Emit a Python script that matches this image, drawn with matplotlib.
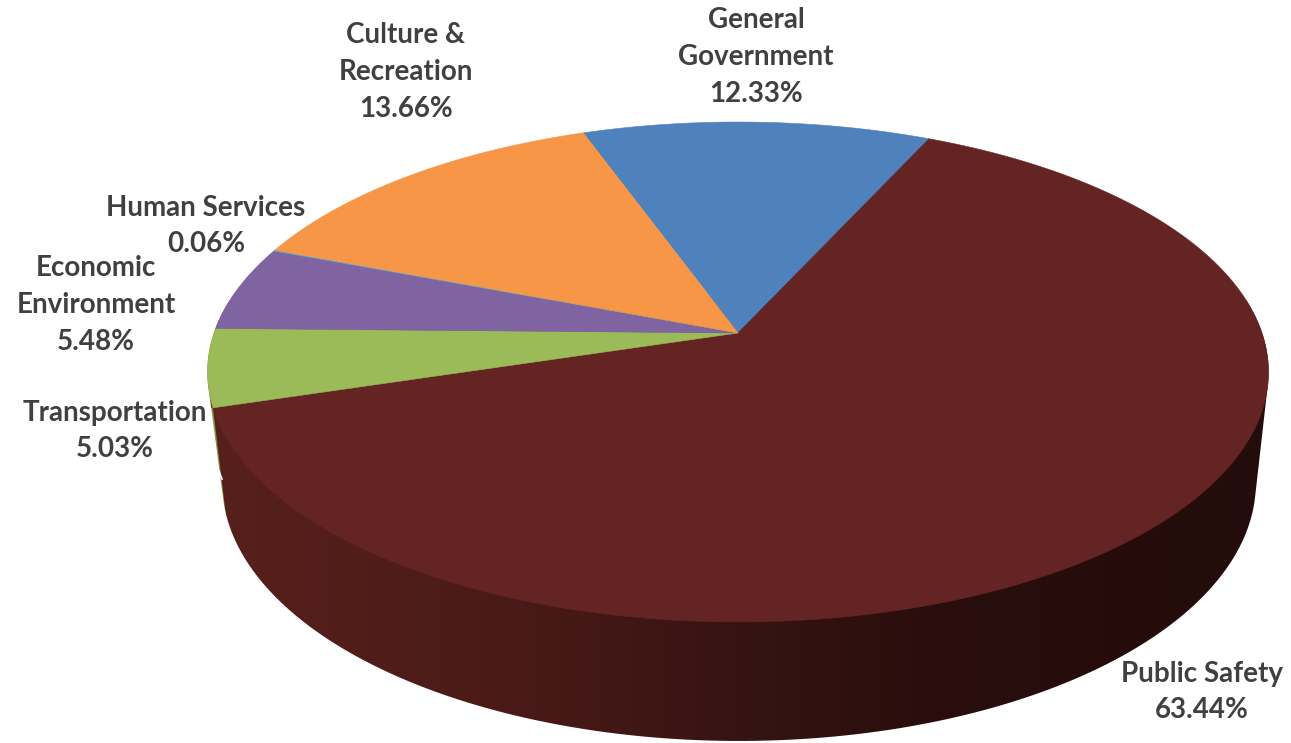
import numpy as np
import matplotlib
matplotlib.use('Agg')
import matplotlib.pyplot as plt
from matplotlib.colors import LinearSegmentedColormap
from matplotlib.patches import PathPatch, Polygon
from matplotlib.path import Path

# Slices in clockwise order, starting from General Government
categories = ['General\nGovernment', 'Public Safety', 'Transportation',
              'Economic\nEnvironment', 'Human Services', 'Culture &\nRecreation']
shares = [12.33, 63.44, 5.03, 5.48, 0.06, 13.66]
colors = ['#4f81bd', '#632423', '#9bbb59', '#8064a2', '#4bacc6', '#f79646']
label_x = [756, 1202, 115, 96, 206, 406]
label_y = [56, 691, 430, 304, 225, 71]
label_y = [y + 1 for y in label_y]

START_ANGLE = -19.8  # degrees clockwise from the back of the pie

# (apex x, apex y, half width, depth scale, perspective) of the two pie faces
TOP_FACE = (738, 333, 524, 243.9, 0.156)
BOTTOM_FACE = (739, 449, 512.5, 254, 0.13)

# Wall shading from left to right
WALL_CMAP = LinearSegmentedColormap.from_list(
    'wall', [(0, '#561f1b'), (0.27, '#4a1a17'), (0.51, '#351311'),
             (0.70, '#280d0c'), (1, '#230c0b')])
GREEN_WALL = '#7d9a42'


def project(theta, face):
    # Perspective view of the pie's circle; theta in degrees clockwise from the back
    cx, cy, half_w, scale, k = face
    u = np.sin(np.radians(theta))
    v = np.cos(np.radians(theta))
    w = 1 + k * v
    return cx + half_w * u / w, cy - scale * v / w


def convex_hull(points):
    # Monotone chain, gives the outline of both faces together
    points = sorted(set(points))

    def half(pts):
        chain = []
        for p in pts:
            while len(chain) >= 2:
                ax_, ay_ = chain[-2]
                bx_, by_ = chain[-1]
                if (bx_ - ax_) * (p[1] - ay_) - (by_ - ay_) * (p[0] - ax_) > 0:
                    break
                chain.pop()
            chain.append(p)
        return chain[:-1]

    return half(points) + half(points[::-1])


def signed_area(pts):
    x, y = np.array(pts).T
    return 0.5 * np.sum(x * np.roll(y, -1) - np.roll(x, -1) * y)


def draw_wall(ax, edges):
    thetas = np.arange(0, 360, 0.5)
    top_x, top_y = project(thetas, TOP_FACE)
    bot_x, bot_y = project(thetas, BOTTOM_FACE)
    outline = convex_hull(list(zip(top_x, top_y)) + list(zip(bot_x, bot_y)))

    # Vertical bands for the shading
    xs = np.linspace(150, 1290, 229)
    ys = np.array([300, 743])
    shade = np.clip((xs[:-1] - 222) / (1256 - 222), 0, 1)
    ax.pcolormesh(xs, ys, shade[None, :], cmap=WALL_CMAP, vmin=0, vmax=1, zorder=1)

    # Thin green wall of the Transportation slice, left of the Public Safety wall
    x0, y0 = project(edges[2], TOP_FACE)
    x1, y1 = project(edges[2] + 3, BOTTOM_FACE)
    x2 = x0 + (x1 - x0) * 1.5
    y2 = y0 + (y1 - y0) * 1.5
    ax.add_patch(Polygon([(x0, y0), (x2, y2), (150, y2), (150, y0)], closed=True,
                         facecolor=GREEN_WALL, edgecolor='none', zorder=1.5))

    # White mask around the outline, this keeps the pie's edge smooth
    frame = [(100, 250), (1291, 250), (1291, 743), (100, 743)]
    if signed_area(frame) * signed_area(outline) > 0:
        outline = outline[::-1]
    verts = frame + [frame[0]] + outline + [outline[0]]
    codes = ([Path.MOVETO] + [Path.LINETO] * 3 + [Path.CLOSEPOLY]
             + [Path.MOVETO] + [Path.LINETO] * (len(outline) - 1) + [Path.CLOSEPOLY])
    ax.add_patch(PathPatch(Path(verts, codes), facecolor='white', edgecolor='none', zorder=1.8))


def draw_top(ax, edges):
    for i, color in enumerate(colors):
        thetas = np.linspace(edges[i], edges[i + 1], max(int(edges[i + 1] - edges[i]) * 2, 2))
        x, y = project(thetas, TOP_FACE)
        x = np.concatenate([[TOP_FACE[0]], x])
        y = np.concatenate([[TOP_FACE[1]], y])
        ax.fill(x, y, color=color, linewidth=0.4, zorder=2)


def main():
    fig = plt.figure(figsize=(12.91, 7.43), dpi=100)
    ax = fig.add_axes([0, 0, 1, 1])

    edges = START_ANGLE + np.concatenate([[0], np.cumsum(shares)]) * 3.6

    draw_wall(ax, edges)
    draw_top(ax, edges)

    # Small white leader line left over by the transportation label
    ax.plot([215, 222], [461, 479], color='white', linewidth=1.2, zorder=3)

    for name, share, x, y in zip(categories, shares, label_x, label_y):
        ax.text(x, y, f'{name}\n{share:.2f}%', ha='center', va='center', ma='center',
                family='Lato', fontweight='bold', fontsize=20, color='#404040',
                linespacing=1.52, zorder=4)

    ax.set_xlim(0, 1291)
    ax.set_ylim(743, 0)
    ax.axis('off')

    fig.savefig('out.png', dpi=100, facecolor='white')


if __name__ == "__main__":
    main()
